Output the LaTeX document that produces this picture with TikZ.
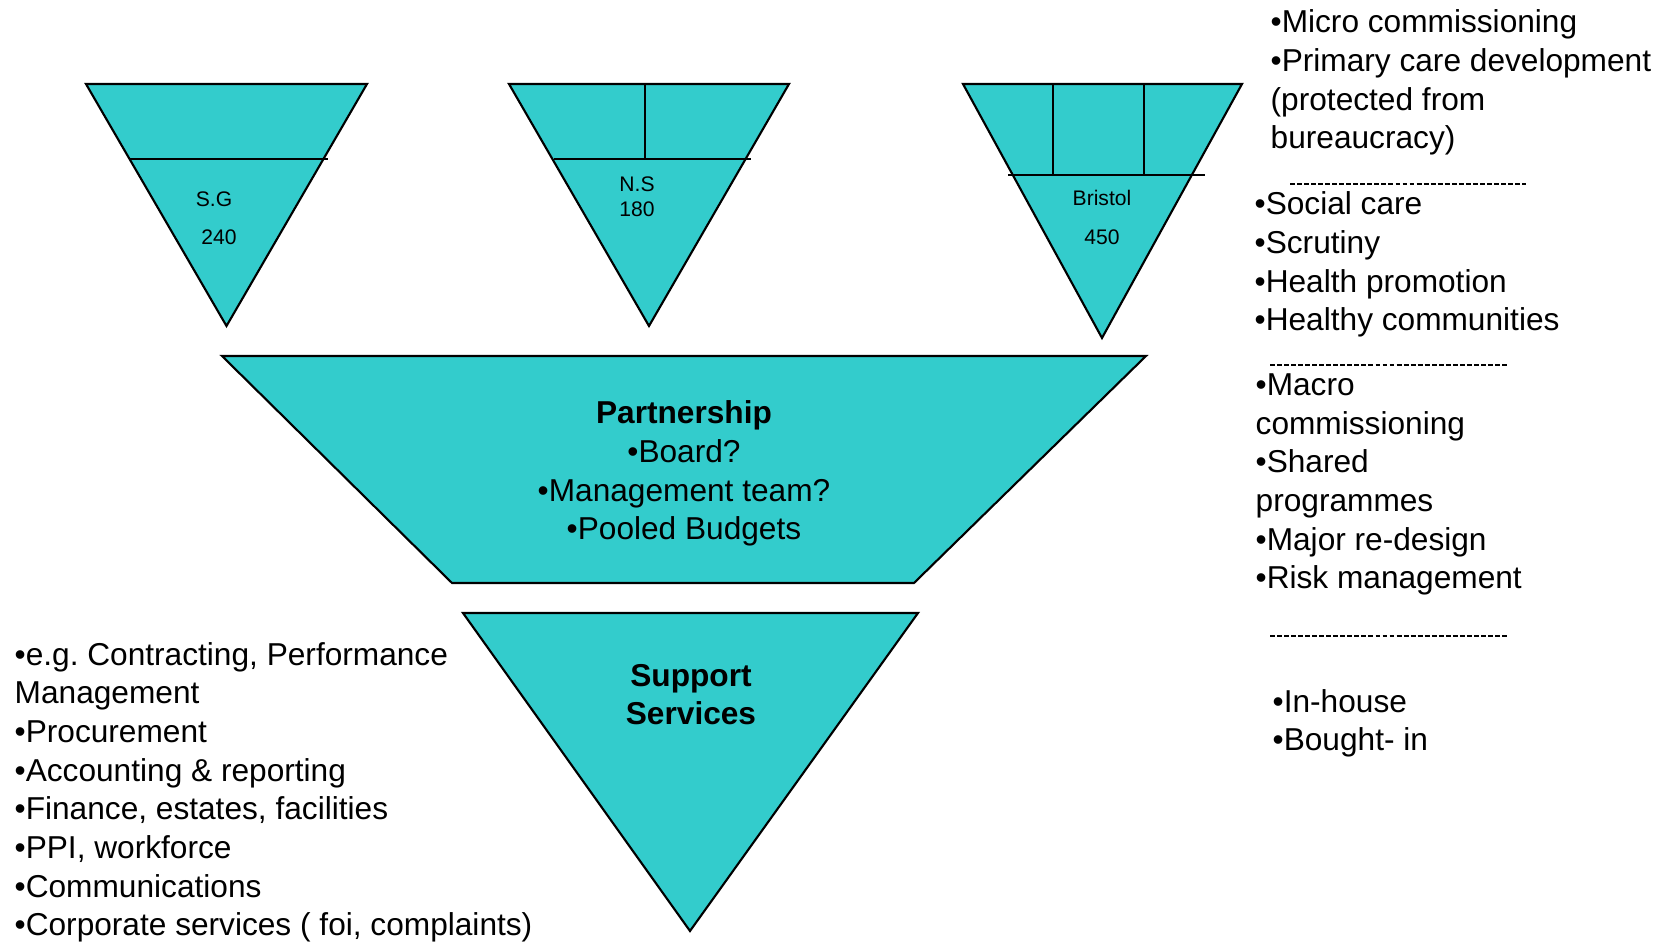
\documentclass[tikz,border=0pt]{standalone}
\usepackage{fontspec}
\setmainfont{Liberation Sans}
\usetikzlibrary{positioning}
\definecolor{funnelteal}{RGB}{51,204,204}

\begin{document}
\begin{tikzpicture}[x=0.01cm, y=-0.01cm,
    funnel/.style={draw=black, fill=funnelteal, line width=0.6pt, line join=miter},
    divider/.style={draw=black, line width=0.8pt},
    sepline/.style={draw=black, line width=0.4pt, dash pattern=on 1.4pt off 0.6pt},
    listtext/.style={anchor=base west, align=left, inner sep=0pt, font=\fontsize{9}{11}\selectfont},
    tag/.style={inner sep=0pt, font=\fontsize{6}{7}\selectfont}]
    \useasboundingbox (0,0) rectangle (1662,943);

    % Local funnels
    \draw[funnel] (86,84) -- (367,84) -- (226.5,326) -- cycle;
    \draw[divider] (130,159) -- (328,159);
    \node[tag] (sg) at (214,199) {S.G};
    \node[tag] (sgnum) at (219,237) {240};

    \draw[funnel] (509,84) -- (789,84) -- (649,326) -- cycle;
    \draw[divider] (554,159) -- (751,159);
    \draw[divider] (645,84) -- (645,159);
    \node[tag] (ns) at (637,184) {N.S};
    \node[tag] (nsnum) at (637,209) {180};

    \draw[funnel] (963,84) -- (1242,84) -- (1102,338) -- cycle;
    \draw[divider] (1008,175) -- (1205,175);
    \draw[divider] (1053,84) -- (1053,175);
    \draw[divider] (1144,84) -- (1144,175);
    \node[tag] (bristol) at (1102,198) {Bristol};
    \node[tag] (bristolnum) at (1102,237) {450};

    % Partnership (base = last line)
    \draw[funnel] (222,356) -- (1146,356) -- (914,583) -- (452,583) -- cycle;
    \node[listtext, anchor=base, align=center] (partner) at (684,540)
        {\textbf{Partnership}\\•Board?\\•Management team?\\•Pooled Budgets};

    % Support services
    \draw[funnel] (463,613) -- (918,613) -- (690,931) -- cycle;
    \node[listtext, anchor=base, align=center] (support) at (691,725)
        {\textbf{Support}\\\textbf{Services}};

    % Right hand lists
    \node[listtext] (micro) at (1270,149)
        {•Micro commissioning\\•Primary care development\\(protected from\\bureaucracy)};
    \draw[sepline] (1290,184) -- (1526,184);
    \node[listtext] (social) at (1254,331)
        {•Social care\\•Scrutiny\\•Health promotion\\•Healthy communities};
    \draw[sepline] (1270,365) -- (1508,365);
    \node[listtext] (macro) at (1255,589)
        {•Macro\\commissioning\\•Shared\\programmes\\•Major re-design\\•Risk management};
    \draw[sepline] (1270,636) -- (1508,636);
    \node[listtext] (inhouse) at (1272,751) {•In-house\\•Bought- in};

    % Left hand list
    \node[listtext] (contract) at (14,936)
        {•e.g.\ Contracting, Performance\\Management\\•Procurement\\•Accounting \& reporting\\•Finance, estates, facilities\\•PPI, workforce\\•Communications\\•Corporate services ( foi, complaints)};
\end{tikzpicture}
\end{document}
